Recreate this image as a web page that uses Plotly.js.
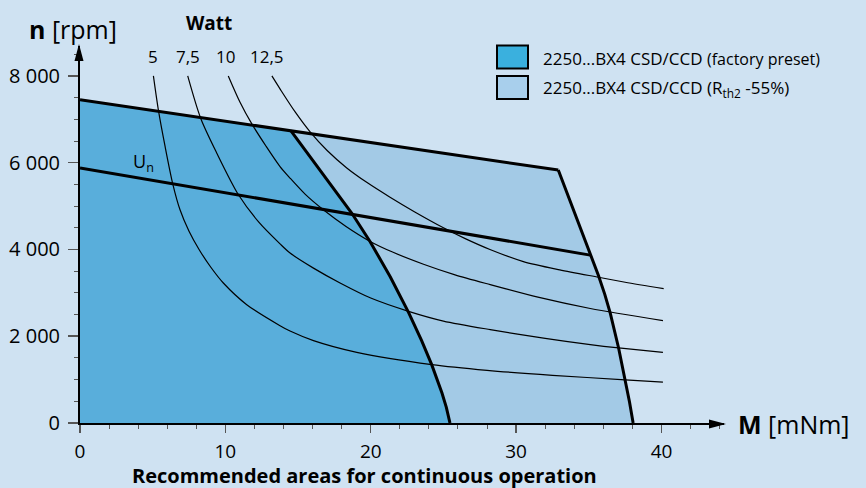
<!DOCTYPE html>
<html><head><meta charset="utf-8">
<script src="https://cdn.plot.ly/plotly-3.0.1.min.js"></script>
<style>html,body{margin:0;padding:0;background:#cfe2f2}#chart{width:866px;height:488px}</style>
</head><body><div id="chart"></div>
<script>
// ---- data (M in mNm, n in rpm) ----
const topM = [0, 14.5, 32.9];
const topN = [7450, 6740, 5830];
const darkM = [14.5, 16.5, 18.7, 19.96, 21.34, 22.6, 23.5, 24.2, 24.9, 25.2, 25.45];
const darkN = [6740, 5840, 4835, 4180, 3370, 2550, 1900, 1340, 690, 360, 0];
const lightM = [32.9, 34.0, 35.1, 35.67, 36.1, 36.48, 37.05, 37.5, 37.8, 38.05];
const lightN = [5830, 4855, 3870, 3395, 2965, 2528, 1730, 1010, 485, 0];
const unM = [0, 35.1];
const unN = [5880, 3870];
const w5M = [5.05, 5.39, 5.85, 6.38, 6.88, 7.5, 8.2, 9.0, 9.86, 11.47, 13.76, 14.45, 16.06, 19.04, 24.2, 28.0, 32.5, 37.5, 40.1];
const w5N = [8000, 7217, 6380, 5513, 4914, 4420, 3994, 3590, 3227, 2728, 2244, 2120, 1900, 1630, 1347, 1215, 1100, 995, 940];
const w75M = [7.41, 8.3, 9.41, 10.9, 12.3, 13.76, 14.45, 16.06, 17.89, 20.0, 22.6, 25.0, 28.22, 32.0, 35.1, 37.05, 40.1];
const w75N = [8000, 7025, 6220, 5260, 4630, 4130, 3918, 3570, 3227, 2880, 2574, 2350, 2152, 1950, 1807, 1731, 1630];
const w10M = [10.2, 11.0, 11.82, 12.8, 13.76, 14.45, 15.5, 16.74, 18.3, 19.96, 21.5, 23.63, 25.8, 28.22, 31.5, 35.1, 40.1];
const w10N = [8000, 7400, 6894, 6380, 5912, 5645, 5270, 4915, 4530, 4185, 3940, 3660, 3415, 3190, 2900, 2640, 2360];
const w125M = [13.2, 13.8, 14.8, 15.83, 17.0, 18.35, 19.8, 21.3, 23.0, 25.0, 26.5, 28.2, 30.5, 33.0, 35.67, 37.5, 40.15];
const w125N = [8000, 7680, 7170, 6710, 6280, 5880, 5530, 5210, 4870, 4500, 4250, 4000, 3720, 3530, 3360, 3245, 3096];
const xTicks = [0, 10, 20, 30, 40];
const xTickText = ["0", "10", "20", "30", "40"];
const yTicks = [0, 2000, 4000, 6000, 8000];
const yTickText = ["0", "2 000", "4 000", "6 000", "8 000"];
const wattLabels = ["5", "7,5", "10", "12,5"];
const legendLabels = ["2250...BX4 CSD/CCD <span style='font-size:16px'>(factory preset)</span>",
                      "2250...BX4 CSD/CCD (R<sub>th2</sub> -55%)"];

// ---- layout helpers ----
const L = 80, R = 142, T = 46, B = 65, W = 866, H = 488;
const PW = W - L - R, PH = H - T - B;
const px = x => (x - L) / PW;
const py = y => (H - B - y) / PH;

const darkCol = '#59aedb', lightCol = '#a3cae6', bg = '#cfe2f2';

const lightX = [0].concat(topM, lightM.slice(1));
const lightY = [0].concat(topN, lightN.slice(1));
const darkX = [0].concat(topM.slice(0, 2), darkM.slice(1));
const darkY = [0].concat(topN.slice(0, 2), darkN.slice(1));

const thin = (x, y) => ({x, y, type: 'scatter', mode: 'lines', line: {color: '#000', width: 1.2, shape: 'spline', smoothing: 0.8}, hoverinfo: 'skip'});
const thick = (x, y) => ({x, y, type: 'scatter', mode: 'lines', line: {color: '#000', width: 3}, hoverinfo: 'skip'});

const data = [
  {x: lightX, y: lightY, type: 'scatter', mode: 'lines', fill: 'toself', fillcolor: lightCol, line: {width: 0, color: lightCol}, hoverinfo: 'skip'},
  {x: darkX, y: darkY, type: 'scatter', mode: 'lines', fill: 'toself', fillcolor: darkCol, line: {width: 0, color: darkCol}, hoverinfo: 'skip'},
  thin(w5M, w5N), thin(w75M, w75N), thin(w10M, w10N), thin(w125M, w125N),
  thick(unM, unN), thick(topM, topN), thick(darkM, darkN), thick(lightM, lightN)
];

const F = 'Open Sans, sans-serif';
const ann = (text, x, y, xanchor, size, extra) => Object.assign({
  text, xref: 'paper', yref: 'paper', x: px(x), y: py(y), xanchor, yanchor: 'middle',
  showarrow: false, font: {family: F, size, color: '#000'}
}, extra || {});

const wattX = [153, 188, 225, 266.5];
const annotations = [
  ann('<b>n</b> [rpm]', 27, 29, 'left', 25),
  ann('<b>Watt</b>', 209, 23, 'center', 19),
  ann('U<sub>n</sub>', 131, 162, 'left', 18),
  ann('<b>M</b> [mNm]', 736, 424, 'left', 25),
  ann('<b>Recommended areas for continuous operation</b>', 364, 475, 'center', 20),
  ann(legendLabels[0], 541, 58, 'left', 17),
  ann(legendLabels[1], 541, 88, 'left', 17)
].concat(wattLabels.map((t, i) => ann(t, wattX[i], 56, 'center', 17)));

const rect = (x0, y0, x1, y1, col) => ({type: 'rect', xref: 'paper', yref: 'paper',
  x0: px(x0), x1: px(x1), y0: py(y1), y1: py(y0), fillcolor: col, line: {color: '#000', width: 2}});

const shapes = [
  rect(497, 45.5, 528, 68.5, '#3ab0de'),
  rect(497, 76, 528, 99, '#a8cfec'),
  {type: 'path', xref: 'paper', yref: 'paper', xsizemode: 'pixel', ysizemode: 'pixel', xanchor: 1, yanchor: 0,
   path: 'M2,-1 L-15,3.5 L-15,-5.5 Z', fillcolor: '#000', line: {width: 0}},
  {type: 'path', xref: 'paper', yref: 'paper', xsizemode: 'pixel', ysizemode: 'pixel', xanchor: 0, yanchor: 1,
   path: 'M-1,2 L-5.5,-15 L3.5,-15 Z', fillcolor: '#000', line: {width: 0}}
];

const layout = {
  width: W, height: H,
  margin: {l: L, r: R, t: T, b: B, pad: 0},
  paper_bgcolor: bg, plot_bgcolor: bg,
  showlegend: false,
  font: {family: F, size: 18, color: '#000'},
  xaxis: {range: [0, 44.3], tickmode: 'array', tickvals: xTicks, ticktext: xTickText,
    ticks: 'outside', ticklen: 8, tickwidth: 1.5, tickcolor: '#555',
    showline: true, linecolor: '#000', linewidth: 2, showgrid: false, zeroline: false,
    minor: {tick0: 0, dtick: 2, ticks: 'outside', ticklen: 4, tickwidth: 1, tickcolor: '#555', showgrid: false},
    tickfont: {family: F, size: 19}, ticklabelstandoff: 2, fixedrange: true},
  yaxis: {range: [0, 8690], tickmode: 'array', tickvals: yTicks, ticktext: yTickText,
    ticks: 'outside', ticklen: 10, tickwidth: 1.5, tickcolor: '#555',
    showline: true, linecolor: '#000', linewidth: 2, showgrid: false, zeroline: false,
    minor: {tick0: 0, dtick: 500, ticks: 'outside', ticklen: 4, tickwidth: 1, tickcolor: '#555', showgrid: false},
    tickfont: {family: F, size: 20}, ticklabelstandoff: 4, fixedrange: true},
  annotations, shapes
};

Plotly.newPlot('chart', data, layout, {staticPlot: true, displayModeBar: false});
</script></body></html>
